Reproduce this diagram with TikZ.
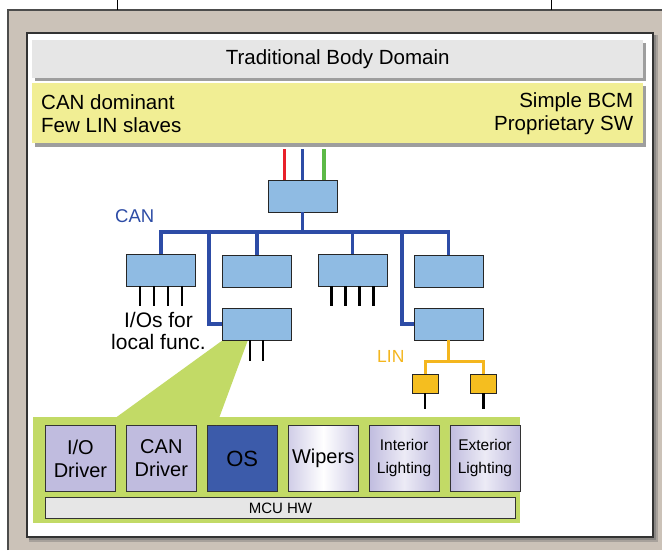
\documentclass[tikz,border=0pt]{standalone}
\usepackage{fontspec}
\setmainfont{Liberation Sans}
\usetikzlibrary{positioning,calc}
\definecolor{panel}{HTML}{CBC2B8}
\definecolor{ecufill}{HTML}{8FBBE3}
\definecolor{canblue}{HTML}{2D4CA6}
\definecolor{linorange}{HTML}{F4B61E}
\definecolor{slavefill}{HTML}{F5BE1F}
\definecolor{swgreen}{HTML}{C2DA66}
\definecolor{notes}{HTML}{F1EE94}
\definecolor{titlegray}{HTML}{E6E6E6}
\definecolor{lav}{HTML}{C0BCDF}
\definecolor{osblue}{HTML}{3C5BAA}
\definecolor{wred}{HTML}{E8202A}
\definecolor{wgreen}{HTML}{5CB947}

\begin{document}
\begin{tikzpicture}[x=1pt,y=-1pt,
  ecu/.style={draw=black!85,line width=0.9pt,fill=ecufill,minimum width=69pt,
              minimum height=32pt,inner sep=0pt},
  slave/.style={draw=black!85,line width=0.9pt,fill=slavefill,minimum width=26pt,
                minimum height=19pt,inner sep=0pt},
  sw/.style={draw=black!80,line width=0.9pt,fill=lav,minimum width=70pt,minimum height=66pt,
             inner sep=0pt,align=center,font=\fontsize{20}{23}\selectfont},
  band/.style={minimum width=611pt,anchor=north west,inner sep=0pt},
  txt/.style={inner sep=0pt,font=\fontsize{20.5}{23}\selectfont},
  can/.style={canblue,line width=3.6pt},
  lin/.style={linorange,line width=3pt},
  io/.style={black,line width=2.8pt},
  wire/.style={line width=3.4pt}
]
  \useasboundingbox (0,0) rectangle (662,550);

  % frame
  \fill[panel] (8,10) rectangle (662,550);
  \draw[black!70,line width=1.2pt] (8,550) -- (8,10) -- (662,10);
  \draw[line width=0.8pt] (117,0) -- (117,10) (551,0) -- (551,10);
  \fill[black!60,opacity=0.35] (29,35) rectangle (658,542);
  \fill[black!60,opacity=0.45] (29,35) rectangle (656,540);
  \draw[fill=white,draw=black!80,line width=1.3pt] (27,33) rectangle (653,537);

  % header bands
  \fill[black!38] (35,43) rectangle (646,81);
  \node[band,fill=titlegray,minimum height=38pt,txt] (title) at (32,40) {Traditional Body Domain};
  \fill[black!38] (35,86) rectangle (646,147);
  \node[band,fill=notes,minimum height=60pt] (notes) at (32,83) {};
  \node[txt,anchor=west,align=left] (featL) at ([xshift=9pt]notes.west) {CAN dominant\\Few LIN slaves};
  \node[txt,anchor=east,align=right] (featR) at ([xshift=-10pt]notes.east) {Simple BCM\\Proprietary SW};

  % software detail
  \node[fill=swgreen,minimum width=487pt,minimum height=106pt,anchor=north west,inner sep=0pt]
    (swpanel) at (33,417) {};
  \node[sw,anchor=north west] (swIO) at (45,425) {I/O\\Driver};
  \node[sw,right=10pt of swIO] (swCAN) {CAN\\Driver};
  \node[sw,right=10pt of swCAN,fill=osblue,font=\fontsize{22}{24}\selectfont] (swOS) {OS};
  \node[sw,right=10pt of swOS,left color=lav!75,right color=lav!75,middle color=white] (swWip) {Wipers};
  \node[sw,right=10pt of swWip,left color=lav,right color=lav,middle color=lav!30,
        font=\fontsize{15.5}{23}\selectfont] (swInt) {Interior\\Lighting};
  \node[sw,right=10pt of swInt,left color=lav,right color=lav,middle color=lav!30,
        font=\fontsize{15.5}{23}\selectfont] (swExt) {Exterior\\Lighting};
  \node[draw=black!80,line width=0.9pt,fill=titlegray,minimum width=470pt,minimum height=21pt,
        inner sep=0pt,anchor=north west,font=\fontsize{15}{17}\selectfont]
    (mcu) at ([yshift=-5pt]swIO.south west) {MCU HW};

  % ECUs
  \node[ecu] (gw) at (302.5,196) {};
  \node[ecu] (ecuA) at (161,270) {};
  \node[ecu] (ecuB) at (257,271.5) {};
  \node[ecu] (ecuC) at (352.5,270) {};
  \node[ecu] (ecuD) at (448.5,271.5) {};
  \node[ecu] (ecuBb) at (256.5,324) {};
  \node[ecu] (ecuDb) at (448.5,324) {};
  \fill[swgreen] ($(ecuBb.south west)+(0,0.6)$) -- ++(26,0) -- ([xshift=-40pt]swIO.north -| ecuBb.south) -- (116,417.5) -- cycle;

  \draw[wire,wred] ([xshift=-18pt]gw.north) -- ++(0,-31);
  \draw[wire,canblue] (gw.north) -- ++(0,-31);
  \draw[wire,wgreen] ([xshift=21.5pt]gw.north) -- ++(0,-31);

  % CAN bus
  \coordinate (busL) at (161,232);
  \coordinate (tapB) at (209,232);
  \coordinate (tapD) at (402,232);
  \draw[can] (gw.south) -- (gw.south |- busL);
  \draw[can] (ecuA.north) -- (ecuA.north |- busL) -- (ecuD.north |- busL) -- (ecuD.north);
  \draw[can] (ecuB.north) -- (ecuB.north |- busL);
  \draw[can] (ecuC.north) -- (ecuC.north |- busL);
  \draw[can] (tapB) |- (ecuBb.west);
  \draw[can] (tapD) |- (ecuDb.west);
  \node[text=canblue,anchor=west,inner sep=0pt,font=\fontsize{18.5}{20}\selectfont] (canlbl) at (115,216) {CAN};

  % local I/Os
  \foreach \dx in {-21,-7,7,21} {
    \draw[io] ([xshift=\dx pt]ecuA.south) -- ++(0,20);
    \draw[io] ([xshift=\dx pt]ecuC.south) -- ++(0,20);
  }
  \draw[io] ([xshift=-6.5pt]ecuBb.south) -- ++(0,21);
  \draw[io] ([xshift=6.5pt]ecuBb.south) -- ++(0,21);
  \node[align=center,inner sep=0pt,font=\fontsize{21}{22}\selectfont] (iolbl) at (158.5,331) {I/Os for\\local func.};

  % LIN
  \node[slave] (linA) at (425,383.5) {};
  \node[slave] (linB) at (483.5,383.5) {};
  \draw[lin] (ecuDb.south) -- ++(0,21) coordinate (linj);
  \draw[lin] (linA.north) |- (linj) -| (linB.north);
  \draw[io,line width=2.5pt] (linA.south) -- ++(0,16);
  \draw[io,line width=2.5pt] (linB.south) -- ++(0,16);
  \node[text=linorange,anchor=west,inner sep=0pt,font=\fontsize{17.5}{19}\selectfont] (linlbl) at (377,356) {LIN};
\end{tikzpicture}
\end{document}
